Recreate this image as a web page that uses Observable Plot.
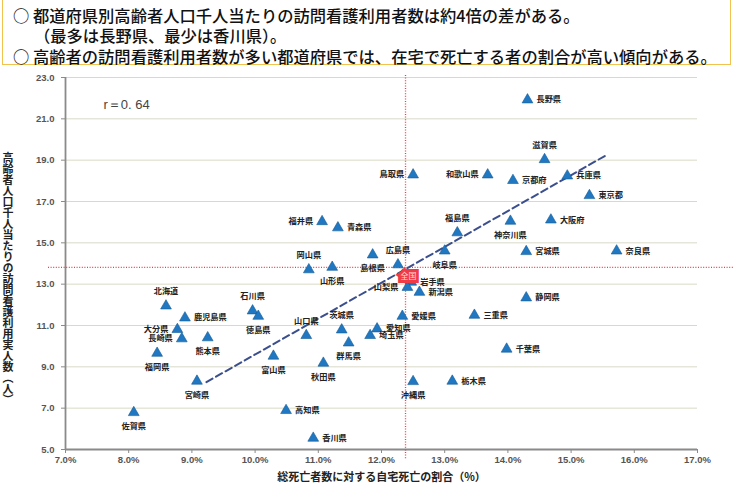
<!DOCTYPE html>
<html><head><meta charset="utf-8">
<script src="https://cdn.jsdelivr.net/npm/d3@7"></script>
<script src="https://cdn.jsdelivr.net/npm/@observablehq/plot@0.6"></script>
<style>
body{margin:0;background:#fff;}
#wrap{position:relative;width:733px;height:487px;overflow:hidden;font-family:"Noto Sans CJK JP","Noto Sans",sans-serif;background:#fff;}
#header{position:absolute;left:2px;top:-2px;width:727px;height:65px;border:1.5px solid #f2c24e;box-sizing:content-box;}
.hl{position:absolute;left:10px;font-size:16.3px;line-height:18px;height:18px;color:#111;white-space:nowrap;font-weight:500;}
#ytitle{position:absolute;left:2px;top:152px;writing-mode:vertical-rl;font-size:11px;font-weight:bold;color:#222;line-height:12px;}
#chart{position:absolute;left:0;top:64px;}
</style></head>
<body>
<div id="wrap">
  <div id="header">
    <div class="hl" style="top:7px">○ 都道府県別高齢者人口千人当たりの訪問看護利用者数は約4倍の差がある。</div>
    <div class="hl" style="top:27px;left:31px">（最多は長野県、最少は香川県）。</div>
    <div class="hl" style="top:48px">○ 高齢者の訪問看護利用者数が多い都道府県では、在宅で死亡する者の割合が高い傾向がある。</div>
  </div>
  <div id="ytitle">高齢者人口千人当たりの訪問看護利用実人数（人）</div>
  <div id="chart"></div>
</div>
<script>
// ---- data ----
const prefectures = ["北海道","青森県","岩手県","宮城県","秋田県","山形県","福島県","茨城県","栃木県","群馬県","埼玉県","千葉県","東京都","神奈川県","新潟県","富山県","石川県","福井県","山梨県","長野県","岐阜県","静岡県","愛知県","三重県","滋賀県","京都府","大阪府","兵庫県","奈良県","和歌山県","鳥取県","島根県","岡山県","広島県","山口県","徳島県","香川県","愛媛県","高知県","福岡県","佐賀県","長崎県","熊本県","大分県","宮崎県","鹿児島県","沖縄県"];
// 総死亡者数に対する自宅死亡の割合（%）
const homeDeathPct = [8.59,11.31,12.47,14.29,11.08,11.22,13.20,11.37,13.12,11.48,11.82,13.98,15.29,14.04,12.60,10.29,9.96,11.06,12.41,14.31,13.00,14.29,11.93,13.47,14.58,14.08,14.68,14.94,15.72,13.68,12.50,11.86,10.85,12.26,10.81,10.05,10.92,12.33,10.49,8.45,8.08,8.84,9.25,8.77,9.08,8.89,12.50];
// 高齢者人口千人当たりの訪問看護利用実人数（人）
const nursingUsers = [11.95,15.73,13.10,14.58,9.18,13.82,15.49,10.79,8.31,10.16,10.52,9.86,17.29,16.05,12.61,9.52,11.71,16.03,12.85,21.92,14.61,12.34,10.84,11.50,19.03,18.02,16.11,18.24,14.61,18.29,18.29,14.42,13.70,13.94,10.52,11.45,5.55,11.45,6.89,9.66,6.79,10.36,10.41,10.81,8.31,11.37,8.29];
// national reference (red dotted lines)
const nationalPct = 12.38;
const nationalUsers = 13.81;
const nationalLabel = "全国";
// trend line (dashed) end values
const trendPct = [9.23, 15.55];
const trendUsers = [8.26, 19.23];
const rText = "r＝0. 64";
// tick labels
const xTicks = [7,8,9,10,11,12,13,14,15,16,17];
const yTicks = [5,7,9,11,13,15,17,19,21,23];
const xTitle = "総死亡者数に対する自宅死亡の割合（%）";

// label placement (style only): r=right, l=left, t=top, b=bottom
const labelSide = {"北海道":"t","青森県":"r","岩手県":"r","宮城県":"r","秋田県":"b","山形県":"b","福島県":"t","茨城県":"t","栃木県":"r","群馬県":"b","埼玉県":"r","千葉県":"r","東京都":"r","神奈川県":"b","新潟県":"r","富山県":"b","石川県":"t","福井県":"l","山梨県":"l","長野県":"r","岐阜県":"b","静岡県":"r","愛知県":"r","三重県":"r","滋賀県":"t","京都府":"r","大阪府":"r","兵庫県":"r","奈良県":"r","和歌山県":"l","鳥取県":"l","島根県":"b","岡山県":"t","広島県":"t","山口県":"t","徳島県":"b","香川県":"r","愛媛県":"r","高知県":"r","福岡県":"b","佐賀県":"b","長崎県":"l","熊本県":"b","大分県":"l","宮崎県":"b","鹿児島県":"r","沖縄県":"b"};

const rows = prefectures.map((name, i) => ({name, x: homeDeathPct[i], y: nursingUsers[i], side: labelSide[name]}));
const trend = trendPct.map((x, i) => ({x, y: trendUsers[i]}));
const national = [{x: nationalPct, y: nationalUsers}];

const labelStyle = {x: "x", y: "y", text: "name", fontSize: 8.2, fontWeight: "bold", fill: "#222"};
const tickFont = {fill: "#555", fontSize: 9.5, fontWeight: "bold", fontFamily: "'Liberation Sans', sans-serif"};

const plot = Plot.plot({
  width: 733,
  height: 423,
  marginLeft: 65,
  marginRight: 36,
  marginTop: 13,
  marginBottom: 38,
  style: {fontFamily: "'Noto Sans CJK JP', sans-serif", background: "transparent"},
  x: {domain: [7, 17]},
  y: {domain: [5, 23]},
  marks: [
    Plot.gridY(yTicks, {stroke: "#d9d9c6", strokeOpacity: 1}),
    Plot.ruleX([7], {stroke: "#8a8a8a", strokeWidth: 1.8}),
    Plot.ruleY([5], {stroke: "#8a8a8a", strokeWidth: 1.8}),
    Plot.axisY({ticks: yTicks, tickFormat: d3.format(".1f"), tickSize: 4, tickPadding: 7, label: null, stroke: "#8a8a8a", ...tickFont}),
    Plot.axisX({ticks: xTicks, tickFormat: d => d.toFixed(1) + "%", tickSize: 4, tickPadding: 3, label: null, stroke: "#8a8a8a", ...tickFont}),
    Plot.ruleX([nationalPct], {stroke: "#f03a44", strokeWidth: 1.3, strokeDasharray: "1,1.6", insetTop: -2, insetBottom: -10}),
    Plot.ruleY([nationalUsers], {stroke: "#f03a44", strokeWidth: 1.3, strokeDasharray: "1,1.6", insetLeft: -17, insetRight: -36}),
    Plot.line(trend, {x: "x", y: "y", stroke: "#3b4f8e", strokeWidth: 2, strokeDasharray: "7,4"}),
    Plot.dot(rows, {x: "x", y: "y", symbol: "triangle", r: 4, fill: "#1f78c1", stroke: "#145a96", strokeWidth: 0.6}),
    Plot.text(rows.filter(d => d.side === "r"), {...labelStyle, dx: 9, textAnchor: "start"}),
    Plot.text(rows.filter(d => d.side === "l"), {...labelStyle, dx: -9, textAnchor: "end"}),
    Plot.text(rows.filter(d => d.side === "t"), {...labelStyle, dy: -14}),
    Plot.text(rows.filter(d => d.side === "b"), {...labelStyle, dy: 14}),
    Plot.text(national, {x: "x", y: "y", text: () => nationalLabel, dx: 3, dy: 9, fontSize: 8, fill: "#ffd9d9", stroke: "#ee3b45", strokeWidth: 6, paintOrder: "stroke", strokeLinejoin: "miter"}),
    Plot.text([rText], {frameAnchor: "top-left", text: d => d, dx: 38, dy: 22, fontSize: 13, fill: "#444", textAnchor: "start", fontFamily: "'Liberation Sans', sans-serif"}),
    Plot.text([xTitle], {frameAnchor: "bottom", text: d => d, dy: 31, fontSize: 11, fontWeight: "bold", fill: "#222"})
  ]
});
document.getElementById("chart").appendChild(plot);
</script>
</body></html>
